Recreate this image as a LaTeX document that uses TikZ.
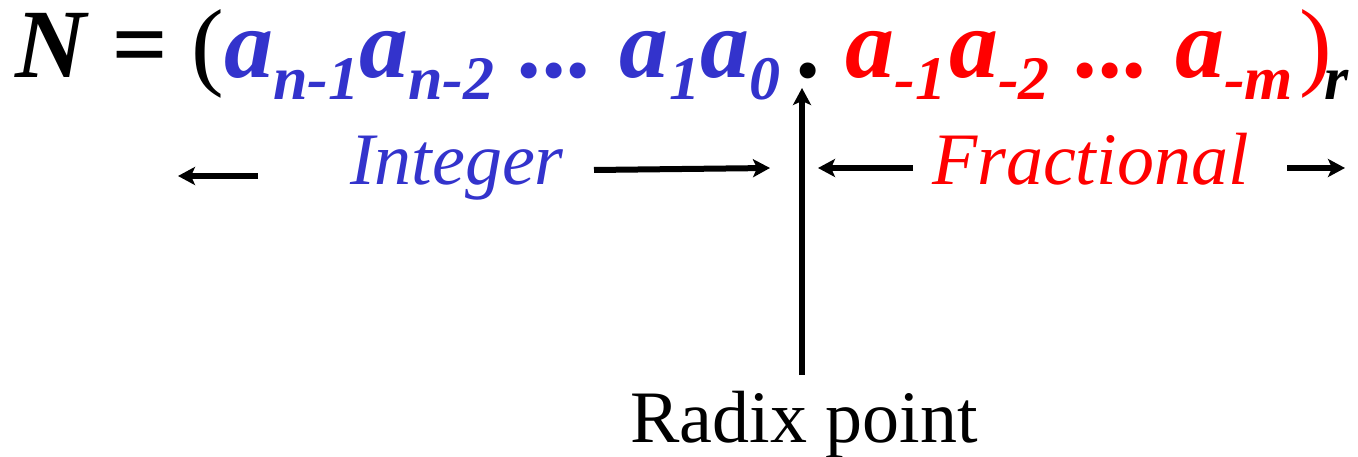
\documentclass[tikz,border=0pt]{standalone}
\usepackage{fontspec}
\setmainfont{Liberation Serif}
\usetikzlibrary{arrows.meta}
\definecolor{intblue}{RGB}{51,51,204}
\definecolor{fracred}{RGB}{255,0,0}
\newcommand{\sbx}[1]{\raisebox{-22pt}{\fontsize{62}{62}\selectfont #1}}
\newcommand{\upp}[1]{{\mdseries\upshape #1}}
\tikzset{
  txt/.style={inner sep=0pt, outer sep=0pt, anchor=base west},
  eqfont/.style={font=\fontsize{98}{100}\selectfont\bfseries\itshape},
  lblfont/.style={font=\fontsize{74}{80}\selectfont\itshape},
  arr/.style={line width=6pt, -{Stealth[length=17pt,width=18pt,inset=4pt]}}
}
\begin{document}
\begin{tikzpicture}[x=1pt,y=-1pt]
\useasboundingbox (0,0) rectangle (1358,457);
% formula
\node[txt, eqfont] (eq) at (16,78) {N = \upp{(}\textcolor{intblue}{a\sbx{n-1}a\sbx{n-2}\hspace{26pt}...\hspace{26pt}a\sbx{1}a\sbx{0}}\hspace{19pt}.\hspace{22pt}\textcolor{fracred}{a\sbx{-1}\kern3pt a\sbx{-2}\hspace{27pt}...\hspace{25pt}a\sbx{-m}\kern6pt\upp{)}}\kern-7pt\sbx{r}};
% labels
\node[txt, lblfont, text=intblue] (int) at (350,185) {Integer};
\node[txt, lblfont, text=fracred] (frac) at (932,185) {Fractional};
\node[inner sep=0pt, outer sep=0pt, anchor=base, font=\fontsize{74}{80}\selectfont] (radix) at (804,442) {Radix point};
% arrow end points
\coordinate (il1) at (258,176);
\coordinate (il2) at (178,176);
\coordinate (ir1) at (594,170);
\coordinate (ir2) at (770,168);
\coordinate (fl1) at (913,168);
\coordinate (fl2) at (818,168);
\coordinate (fr1) at (1287,168);
\coordinate (fr2) at (1345,168);
\coordinate (rb) at (802,375);
\coordinate (rt) at (802,88);
% arrows
\draw[arr] (il1) -- (il2);
\draw[arr] (ir1) -- (ir2);
\draw[arr] (fl1) -- (fl2);
\draw[arr] (fr1) -- (fr2);
\draw[arr] (rb) -- (rt);
\end{tikzpicture}
\end{document}
